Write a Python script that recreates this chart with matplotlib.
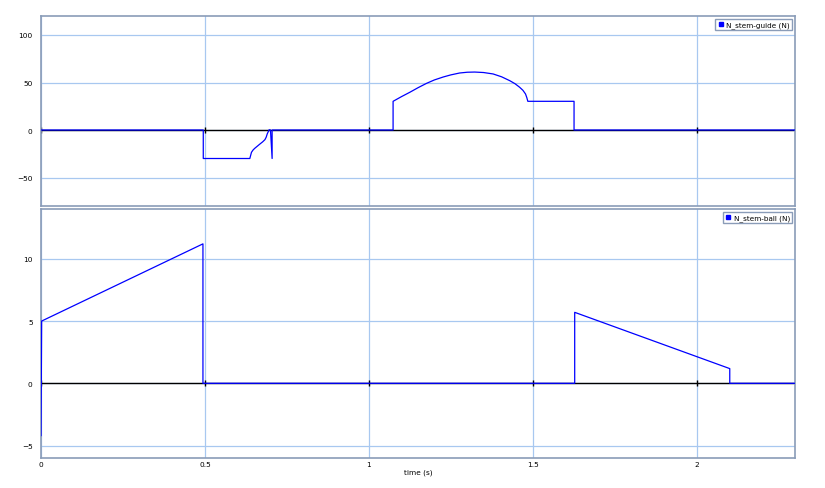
import numpy as np
import matplotlib
matplotlib.use("Agg")
import matplotlib.pyplot as plt
from matplotlib.lines import Line2D

# N_stem-guide (N)
t_guide = [0.0, 0.495, 0.495, 0.637, 0.642, 0.647, 0.652, 0.660, 0.668, 0.676,
           0.683, 0.687, 0.690, 0.696, 0.700, 0.705, 0.705, 1.074, 1.074, 1.100,
           1.125, 1.150, 1.176, 1.200, 1.227, 1.250, 1.277, 1.300, 1.323, 1.350,
           1.379, 1.405, 1.430, 1.446, 1.460, 1.470, 1.478, 1.482, 1.485, 1.626,
           1.626, 2.3]
v_guide = [0, 0, -30, -30, -23.5, -21.0, -19.3, -17.0, -14.7, -12.5,
           -10.2, -7.5, -4.2, 0.3, 0, -30, 0, 0, 30.2, 35.2,
           39.7, 44.5, 49.1, 52.7, 55.8, 58.0, 60.0, 60.8, 61.0, 60.5,
           59.0, 56.0, 51.9, 48.7, 45.0, 41.8, 37.9, 34.0, 30.2, 30.2,
           0, 0]

# N_stem-ball (N)
t_ball = [0.0, 0.002, 0.494, 0.494, 1.628, 1.628, 2.101, 2.101, 2.3]
v_ball = [-4.2, 5.0, 11.2, 0, 0, 5.7, 1.18, 0, 0]

x_ticks = [0, 0.5, 1, 1.5, 2]
guide_yticks = [-50, 0, 50, 100]
ball_yticks = [-5, 0, 5, 10]

BLUE = "#0000ff"
GRID = "#a8c8f0"
SPINE = "#8a9cb8"

fig = plt.figure(figsize=(8.25, 4.89), dpi=100)
ax1 = fig.add_axes([41 / 825, 1 - 207 / 489, 754 / 825, 190 / 489])
ax2 = fig.add_axes([41 / 825, 1 - 459 / 489, 754 / 825, 249 / 489])


def style(ax, t, v, yticks, ylim, label):
    ax.set_xlim(0, 2.3)
    ax.set_ylim(*ylim)
    ax.set_xticks(x_ticks)
    ax.set_yticks(yticks)
    ax.grid(True, color=GRID, lw=0.9)
    ax.set_axisbelow(True)
    for s in ax.spines.values():
        s.set_color(SPINE)
        s.set_linewidth(1.2)
    ax.tick_params(length=0, labelsize=5.3, pad=6, colors="black")
    ax.axhline(0, color="black", lw=1.0, zorder=2)
    ax.plot(x_ticks, np.zeros(len(x_ticks)), "|", color="black", ms=5, mew=1.0, zorder=2)
    ax.plot(t, v, color=BLUE, lw=0.9, zorder=3)
    h = Line2D([], [], marker="s", ls="none", color=BLUE, ms=3.5)
    leg = ax.legend([h], [label], loc="upper right", fontsize=5.2, fancybox=False,
                    framealpha=1, handlelength=0.8, handletextpad=0.4,
                    borderpad=0.35, borderaxespad=0.35)
    leg.get_frame().set_edgecolor(SPINE)
    leg.get_frame().set_linewidth(1.0)


style(ax1, t_guide, v_guide, guide_yticks, (-80, 120), "N_stem-guide (N)")
ax1.tick_params(labelbottom=False)
style(ax2, t_ball, v_ball, ball_yticks, (-6, 14), "N_stem-ball (N)")
ax2.set_xticklabels(["0", "0.5", "1", "1.5", "2"])
ax2.tick_params(axis="x", pad=2)
ax2.set_xlabel("time (s)", fontsize=5.3, labelpad=1)

fig.savefig("out.png", dpi=100)
